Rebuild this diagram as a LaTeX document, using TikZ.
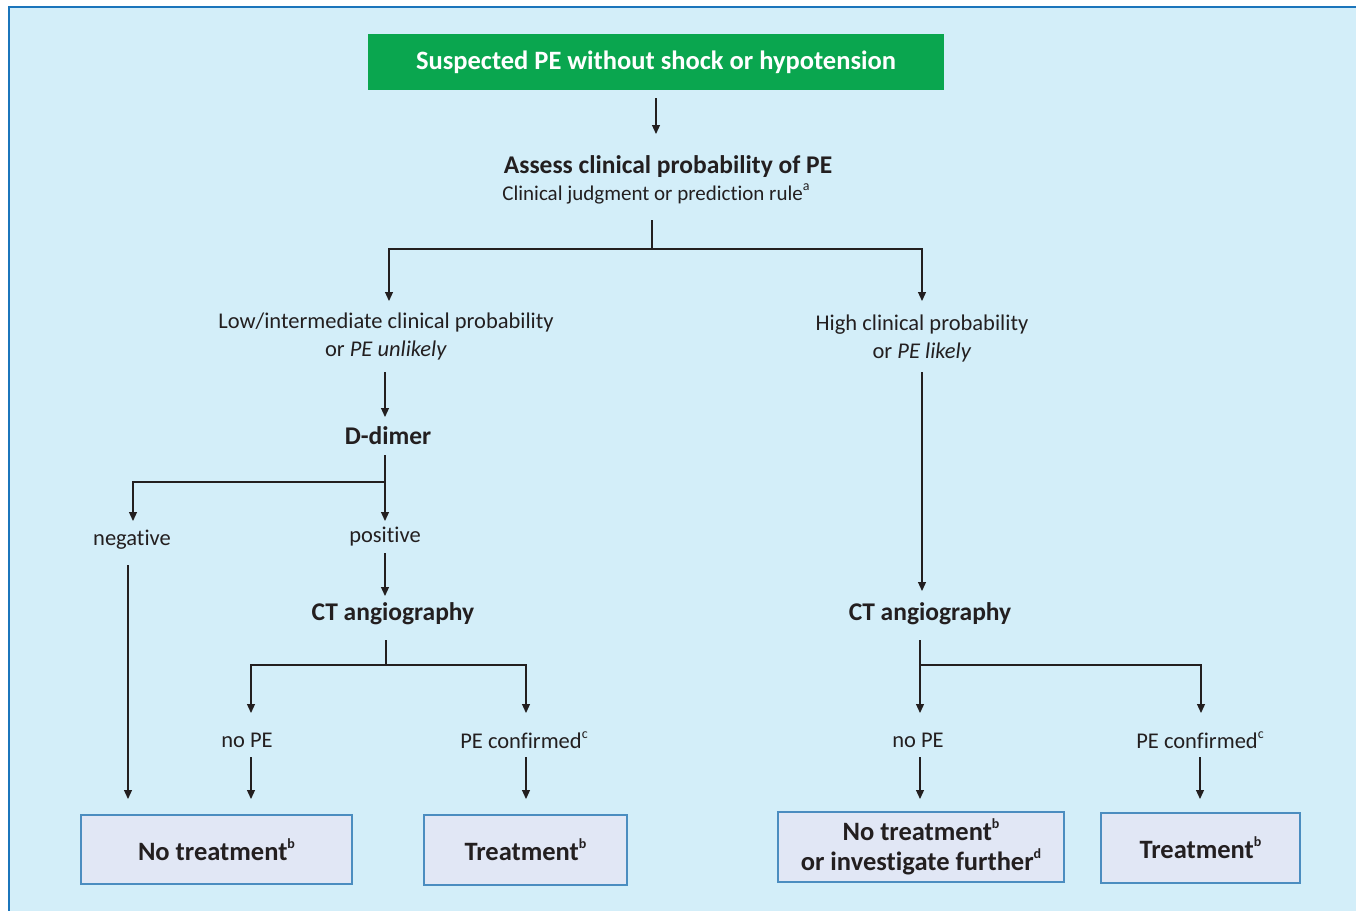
\documentclass[tikz,border=0pt]{standalone}
\usepackage{fontspec}
\setmainfont[Ligatures=NoCommon]{Carlito}
\usetikzlibrary{arrows.meta}
\definecolor{bgblue}{HTML}{D3EEF9}
\definecolor{frameblue}{HTML}{1B75BB}
\definecolor{topgreen}{HTML}{0AA64F}
\definecolor{boxfill}{HTML}{E1E7F5}
\definecolor{boxline}{HTML}{4B8DC0}
\definecolor{ink}{HTML}{231F20}
\newcommand{\sups}[1]{\raisebox{0.45em}{\fontsize{14}{14}\selectfont #1}}
\tikzset{
  conn/.style={draw=ink, line width=1.2pt},
  arr/.style={conn, -{Triangle[length=9pt,width=8pt]}},
  lbl/.style={text=ink, font=\fontsize{22.5}{25}\selectfont, align=center, inner sep=0pt},
  blbl/.style={text=ink, font=\fontsize{25.5}{28}\selectfont\bfseries, align=center, inner sep=0pt},
  endbox/.style={draw=boxline, fill=boxfill, line width=1.3pt, text=ink, font=\fontsize{26.5}{30}\selectfont\bfseries, align=center, inner sep=0pt},
}
\begin{document}
\begin{tikzpicture}[x=1pt,y=-1pt]
\useasboundingbox (0,0) rectangle (1356,910);
\fill[white] (0,0) rectangle (1356,910);
\fill[bgblue] (9,7) rectangle (1360,915);
\draw[frameblue, line width=2.5pt] (9,915) -- (9,7) -- (1360,7);
% top box
\node[fill=topgreen, minimum width=576pt, minimum height=56pt, text=white, font=\fontsize{26.5}{28}\selectfont\bfseries, inner sep=0pt] (top) at (656,62) {Suspected PE without shock or hypotension};
\node[blbl] (assess) at (668,167) {Assess clinical probability of PE};
\node[lbl, font=\fontsize{21}{24}\selectfont] (rule) at (656,194) {Clinical judgment or prediction rule\sups{a}};
\coordinate (c1) at (652,220);
\coordinate (c1h) at (652,249);
\node[lbl] (low) at (386,336) {Low/intermediate clinical probability\\[3pt] or \textit{PE unlikely}};
\node[lbl] (high) at (922,338) {High clinical probability\\[3pt] or \textit{PE likely}};
\node[blbl] (dd) at (388,436) {D-dimer};
\coordinate (c2) at (385,455);
\coordinate (c2h) at (385,482);
\node[lbl] (neg) at (132,540) {negative};
\node[lbl] (pos) at (385,537) {positive};
\node[blbl] (ctl) at (393,614) {CT angiography};
\node[blbl] (ctr) at (930,614) {CT angiography};
\coordinate (c3) at (386,640);
\coordinate (c3h) at (386,665);
\coordinate (c4) at (920,640);
\coordinate (c4h) at (920,665);
\node[lbl] (nopel) at (247,740) {no PE};
\node[lbl] (pecl) at (524,740) {PE confirmed\sups{c}};
\node[lbl] (noper) at (918,740) {no PE};
\node[lbl] (pecr) at (1200,740) {PE confirmed\sups{c}};
% end boxes
\node[endbox, minimum width=271pt, minimum height=69pt] (b1) at (216.5,849.5) {No treatment\sups{b}};
\node[endbox, minimum width=203pt, minimum height=70pt] (b2) at (525.5,850) {Treatment\sups{b}};
\node[endbox, minimum width=286pt, minimum height=70pt] (b3) at (921,847) {No treatment\sups{b}\\or investigate further\sups{d}};
\node[endbox, minimum width=199pt, minimum height=70pt] (b4) at (1200.5,848) {Treatment\sups{b}};
% connectors
\draw[arr] (656,98) -- (656,134);
\draw[conn] (c1) -- (c1h);
\draw[arr] (c1h) -| (389,301);
\draw[arr] (c1h) -| (922,301);
\draw[arr] (385,372) -- (385,417);
\draw[conn] (c2) -- (c2h);
\draw[arr] (c2h) -| (133,521);
\draw[arr] (c2h) -- (385,521);
\draw[arr] (385,553) -- (385,596);
\draw[arr] (128,565) -- (128,799);
\draw[conn] (c3) -- (c3h);
\draw[arr] (c3h) -| (251,713);
\draw[arr] (c3h) -| (526,713);
\draw[arr] (251,757) -- (251,799);
\draw[arr] (526,757) -- (526,799);
\draw[arr] (922,372) -- (922,591);
\draw[conn] (c4) -- (c4h);
\draw[arr] (c4h) -- (920,713);
\draw[arr] (c4h) -| (1201,713);
\draw[arr] (920,757) -- (920,799);
\draw[arr] (1200,757) -- (1200,799);
\end{tikzpicture}
\end{document}
